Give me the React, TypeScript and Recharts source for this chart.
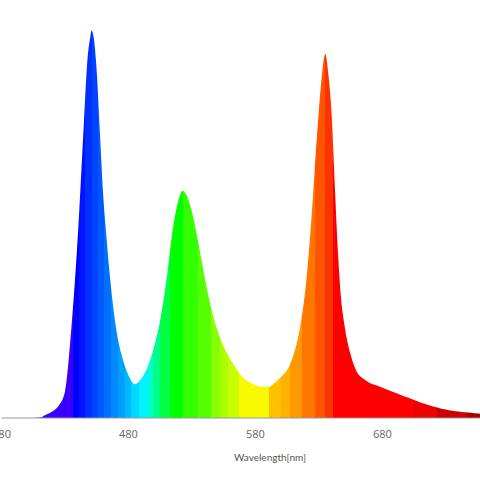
import { AreaChart, Area, XAxis, YAxis } from 'recharts';

// Wavelength [nm] and relative intensity
const wavelengths = [
  380, 390, 400, 405, 410, 415, 420, 425, 430, 435, 440, 445, 447.5, 450, 451, 452.5, 455, 457.5, 460, 462.5,
  465, 467.5, 470, 475, 480, 485, 490, 495, 500, 505, 510, 515, 520, 522.5, 525, 530, 535, 540, 545, 550,
  555, 560, 565, 570, 575, 580, 585, 590, 595, 600, 605, 610, 615, 620, 625, 627.5, 630, 632.5, 635, 637.5,
  640, 642.5, 645, 647.5, 650, 655, 660, 665, 670, 675, 680, 685, 690, 695, 700, 705, 710, 715, 720, 725,
  730, 735, 740, 745, 750, 755, 760,
];
const intensity = [
  0, 0, 0, 0, 0.1, 0.8, 1.6, 3.0, 6.5, 22, 44, 73, 87, 93.5, 95, 93.5, 85, 70, 55, 45,
  36, 28.5, 22.5, 15, 10.5, 8.3, 9.6, 12.5, 17.3, 24, 34, 46.5, 54, 55.7, 55, 50.5, 43, 34.5, 27, 21.5,
  17.5, 14.5, 12, 10, 8.8, 8.0, 7.6, 7.6, 8.6, 10, 11.8, 15.5, 22, 33.5, 53, 65, 75.5, 84.5, 89.2, 84,
  74.5, 57, 40.5, 29, 23, 15.5, 11.2, 9.6, 8.6, 8, 7.4, 6.8, 6.2, 5.6, 5.0, 4.4, 3.8, 3.3, 2.8, 2.4,
  2.1, 1.8, 1.6, 1.4, 1.3, 1.1, 1.0,
];
const xTicks = [380, 480, 580, 680];

const data = wavelengths.map((w, i) => ({ w, v: intensity[i] }));

// colour bands under the curve (start wavelength, colour)
const bands: [number, string][] = [
  [380, '#3a00ff'], [436, '#0000ff'], [441, '#0012ff'], [446, '#0030ff'], [451, '#0044ff'],
  [456, '#0058ff'], [461, '#0070ff'], [466, '#0088ff'], [472, '#00a0ff'], [477, '#00b8ff'],
  [482, '#00d8ff'], [488, '#00f2ff'], [495, '#00ffcc'], [499, '#00ff88'], [505, '#00ff44'],
  [513, '#00ff00'], [523, '#33ff00'], [535, '#55ff00'], [545, '#88ff00'], [552, '#aaff00'],
  [558, '#c8ff00'], [567, '#f8f800'], [591, '#ffc000'], [600, '#ffb000'], [607, '#ff9900'],
  [617, '#ff7700'], [627, '#ff5500'], [635, '#ff3300'], [641, '#ff0000'], [704, '#ee0000'],
  [723, '#cc0000'], [747, '#aa0000'],
];

const MIN = 380;
const MAX = 760;

export default function App() {
  return (
    <div style={{ position: 'absolute', left: 0, top: 0, width: 480, height: 480, overflow: 'hidden', background: '#fff' }}>
      <AreaChart width={490} height={480} data={data} margin={{ top: 10, right: 6, bottom: 32, left: 1.5 }}>
        <defs>
          <linearGradient id="spectrum" x1="0" y1="0" x2="1" y2="0">
            {bands.map(([from, color], i) => {
              const to = i < bands.length - 1 ? bands[i + 1][0] : MAX;
              return [
                <stop key={`a${i}`} offset={(from - MIN) / (MAX - MIN)} stopColor={color} />,
                <stop key={`b${i}`} offset={(to - MIN) / (MAX - MIN)} stopColor={color} />,
              ];
            })}
          </linearGradient>
        </defs>
        <XAxis
          dataKey="w"
          type="number"
          domain={[MIN, MAX]}
          ticks={xTicks}
          interval={0}
          tickLine={false}
          tickSize={10}
          height={30}
          stroke="#999"
          tick={{ fill: '#666', fontSize: 11, fontFamily: 'Open Sans' }}
        />
        <YAxis domain={[0, 100]} width={0} tick={false} tickLine={false} stroke="#e6e6e6" />
        <Area
          type="monotone"
          dataKey="v"
          stroke="none"
          fill="url(#spectrum)"
          fillOpacity={1}
          isAnimationActive={false}
        />
      </AreaChart>
      <div
        style={{
          position: 'absolute',
          left: 270,
          top: 451,
          transform: 'translateX(-50%)',
          fontFamily: 'Lato',
          fontSize: 10,
          color: '#555',
          whiteSpace: 'nowrap',
        }}
      >
        Wavelength[nm]
      </div>
    </div>
  );
}
